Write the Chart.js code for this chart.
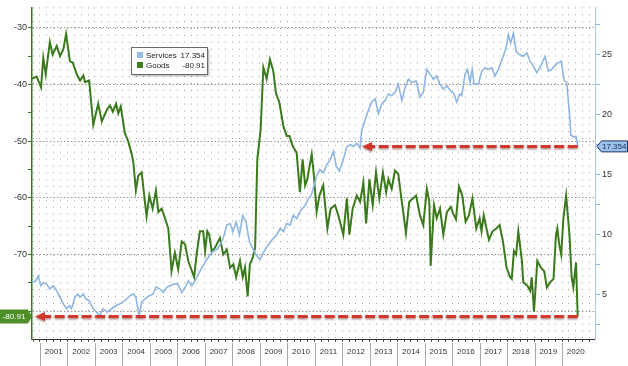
<!DOCTYPE html>
<html>
<head>
<meta charset="utf-8">
<script src="https://cdn.jsdelivr.net/npm/chart.js@4.4.1/dist/chart.umd.min.js"></script>
<style>
html, body { margin: 0; padding: 0; background: #fff; }
#wrap { width: 628px; height: 366px; }
</style>
</head>
<body>
<div id="wrap"><canvas id="myChart" width="628" height="366"></canvas></div>
<script>
// Goods (left axis), decimal years + values
const goodsYears = [
  2000.71, 2000.88, 2001.04, 2001.12, 2001.21, 2001.36, 2001.46, 2001.61, 2001.73, 2001.85, 2001.95,
  2002.09, 2002.19, 2002.34, 2002.46, 2002.58, 2002.64, 2002.79, 2002.94, 2003.12, 2003.25, 2003.43,
  2003.55, 2003.65, 2003.77, 2003.85, 2003.94, 2004.09, 2004.21, 2004.34, 2004.40, 2004.49, 2004.58,
  2004.70, 2004.88, 2004.98, 2005.10, 2005.22, 2005.31, 2005.43, 2005.55, 2005.67, 2005.79, 2005.91,
  2006.03, 2006.16, 2006.28, 2006.40, 2006.61, 2006.70, 2006.82, 2006.94, 2007.01, 2007.09, 2007.16,
  2007.25, 2007.37, 2007.55, 2007.67, 2007.80, 2007.92, 2008.04, 2008.14, 2008.28, 2008.38, 2008.46,
  2008.56, 2008.64, 2008.74, 2008.83, 2008.91, 2009.03, 2009.13, 2009.25, 2009.37, 2009.49, 2009.59,
  2009.71, 2009.86, 2009.98, 2010.08, 2010.20, 2010.34, 2010.46, 2010.56, 2010.65, 2010.73, 2010.89,
  2010.97, 2011.07, 2011.17, 2011.31, 2011.46, 2011.58, 2011.74, 2011.86, 2012.04, 2012.17, 2012.26,
  2012.38, 2012.53, 2012.65, 2012.77, 2012.87, 2012.99, 2013.11, 2013.23, 2013.35, 2013.48, 2013.60,
  2013.68, 2013.80, 2013.92, 2014.04, 2014.17, 2014.32, 2014.44, 2014.57, 2014.69, 2014.83, 2014.95,
  2015.08, 2015.17, 2015.22, 2015.34, 2015.44, 2015.56, 2015.68, 2015.81, 2015.95, 2016.04, 2016.14,
  2016.25, 2016.37, 2016.49, 2016.61, 2016.74, 2016.88, 2017.00, 2017.07, 2017.15, 2017.25, 2017.34,
  2017.47, 2017.61, 2017.73, 2017.85, 2017.98, 2018.11, 2018.17, 2018.25, 2018.33, 2018.41, 2018.54,
  2018.59, 2018.74, 2018.84, 2018.90, 2018.98, 2019.10, 2019.23, 2019.35, 2019.45, 2019.57, 2019.69,
  2019.78, 2019.83, 2019.90, 2019.97, 2020.05, 2020.15, 2020.27, 2020.35, 2020.41, 2020.51, 2020.57
];
const goodsValues = [
  -39.0, -38.6, -40.5, -35.3, -38.2, -32.5, -34.7, -33.2, -35.0, -33.8, -31.1,
  -35.9, -36.1, -38.2, -39.3, -38.4, -39.6, -39.3, -47.1, -43.4, -46.5, -44.5,
  -43.7, -44.8, -43.4, -45.1, -43.9, -48.6, -50.0, -52.3, -53.8, -58.7, -56.1,
  -55.5, -63.3, -59.6, -61.9, -58.7, -62.5, -61.9, -63.6, -65.4, -72.9, -69.7,
  -72.6, -67.7, -68.2, -71.2, -74.0, -70.0, -65.9, -65.9, -69.4, -65.9, -66.5,
  -69.4, -68.8, -67.1, -70.0, -69.1, -72.3, -71.7, -74.0, -71.1, -74.0, -72.3,
  -77.4, -71.7, -70.6, -68.8, -53.2, -48.0, -37.0, -39.0, -35.6, -37.6, -41.6,
  -43.1, -47.4, -49.1, -49.1, -50.9, -52.0, -59.0, -53.2, -57.8, -56.7, -52.3,
  -56.1, -62.5, -59.6, -57.8, -65.4, -61.9, -61.3, -63.1, -66.5, -60.1, -66.5,
  -61.9, -59.6, -60.7, -57.3, -64.5, -56.7, -61.3, -55.5, -60.1, -55.5, -59.0,
  -56.7, -58.4, -55.2, -55.8, -60.7, -66.2, -60.7, -60.1, -59.6, -63.1, -64.8,
  -58.4, -60.7, -72.0, -61.3, -63.6, -61.9, -66.5, -62.5, -61.6, -62.8, -63.8,
  -58.0, -59.6, -64.2, -63.1, -60.1, -65.4, -63.6, -65.9, -63.1, -65.4, -67.4,
  -65.9, -65.4, -64.8, -67.7, -72.3, -74.0, -74.3, -69.4, -70.0, -65.9, -71.1,
  -74.9, -75.5, -76.4, -74.0, -80.1, -71.1, -72.3, -72.9, -75.8, -74.9, -74.3,
  -66.5, -65.4, -68.3, -70.0, -63.6, -59.6, -66.5, -74.0, -75.8, -71.4, -80.91
];

// Services (right axis)
const servicesYears = [
  2000.71, 2000.85, 2000.94, 2001.03, 2001.12, 2001.24, 2001.36, 2001.48, 2001.61, 2001.73, 2001.85,
  2001.97, 2002.07, 2002.15, 2002.27, 2002.37, 2002.46, 2002.58, 2002.67, 2002.79, 2002.94, 2003.06,
  2003.18, 2003.30, 2003.45, 2003.61, 2003.77, 2003.91, 2004.09, 2004.28, 2004.40, 2004.49, 2004.61,
  2004.70, 2004.82, 2004.98, 2005.12, 2005.22, 2005.37, 2005.49, 2005.61, 2005.73, 2005.88, 2006.00,
  2006.16, 2006.28, 2006.40, 2006.52, 2006.64, 2006.76, 2006.89, 2007.07, 2007.19, 2007.31, 2007.43,
  2007.55, 2007.67, 2007.80, 2007.92, 2008.02, 2008.14, 2008.26, 2008.38, 2008.50, 2008.62, 2008.74,
  2008.86, 2009.01, 2009.19, 2009.31, 2009.49, 2009.62, 2009.74, 2009.86, 2009.98, 2010.10, 2010.22,
  2010.34, 2010.49, 2010.65, 2010.77, 2010.89, 2011.07, 2011.19, 2011.31, 2011.44, 2011.56, 2011.68,
  2011.78, 2011.90, 2012.04, 2012.17, 2012.29, 2012.41, 2012.53, 2012.65, 2012.71, 2012.83, 2012.95,
  2013.07, 2013.20, 2013.32, 2013.44, 2013.56, 2013.68, 2013.80, 2013.92, 2014.04, 2014.17, 2014.29,
  2014.41, 2014.53, 2014.69, 2014.83, 2014.95, 2015.08, 2015.20, 2015.32, 2015.44, 2015.56, 2015.68,
  2015.81, 2015.93, 2016.05, 2016.17, 2016.27, 2016.35, 2016.47, 2016.56, 2016.65, 2016.73, 2016.80,
  2016.96, 2017.08, 2017.20, 2017.32, 2017.44, 2017.56, 2017.68, 2017.86, 2017.96, 2018.05, 2018.13,
  2018.23, 2018.33, 2018.45, 2018.59, 2018.72, 2018.84, 2018.96, 2019.08, 2019.20, 2019.38, 2019.50,
  2019.63, 2019.78, 2019.97, 2020.08, 2020.17, 2020.27, 2020.32, 2020.41, 2020.51, 2020.57
];
const servicesValues = [
  6.00, 6.15, 6.56, 5.74, 6.00, 5.88, 5.47, 5.74, 5.33, 4.78, 4.24,
  3.83, 4.10, 3.83, 4.78, 5.06, 4.78, 5.06, 4.65, 4.51, 3.83, 3.55,
  3.28, 3.83, 3.55, 3.83, 4.10, 4.24, 4.51, 4.92, 5.06, 4.78, 3.28,
  4.37, 4.65, 4.92, 5.06, 5.66, 5.47, 5.19, 5.60, 5.74, 5.88, 5.93,
  5.19, 5.60, 6.15, 5.74, 6.15, 6.70, 7.24, 7.93, 8.33, 8.61, 8.75,
  9.16, 9.70, 10.80, 10.93, 10.25, 11.07, 9.98, 11.60, 11.07, 9.43, 8.88,
  8.33, 7.93, 8.75, 9.16, 9.70, 9.98, 10.52, 10.25, 10.93, 10.80, 11.62,
  11.34, 12.02, 12.43, 12.98, 13.39, 14.89, 15.44, 15.16, 15.84, 16.25, 16.94,
  15.71, 15.30, 16.25, 17.35, 17.49, 17.35, 17.62, 17.21, 18.71, 19.53, 20.35,
  21.04, 21.31, 20.08, 20.90, 21.17, 21.72, 21.58, 21.86, 22.54, 21.17, 22.27,
  22.95, 22.68, 22.81, 21.45, 21.86, 23.77, 23.36, 22.95, 23.22, 22.54, 22.13,
  22.40, 22.00, 21.80, 21.04, 21.72, 21.58, 23.36, 23.77, 22.68, 23.77, 22.54,
  22.54, 23.63, 23.91, 23.77, 23.91, 23.22, 23.77, 24.86, 25.55, 26.64, 25.96,
  26.78, 25.27, 25.00, 24.86, 25.14, 24.45, 24.04, 23.50, 23.91, 24.86, 23.63,
  23.77, 24.18, 24.45, 22.81, 22.68, 20.08, 18.30, 18.17, 18.17, 17.354
];

const yearLabels = [2001, 2002, 2003, 2004, 2005, 2006, 2007, 2008, 2009, 2010,
                    2011, 2012, 2013, 2014, 2015, 2016, 2017, 2018, 2019, 2020];
const goodsTickLabels = [-70, -60, -50, -40, -30];
const servicesTickLabels = [5, 10, 15, 20, 25];

const lastServices = 17.354;
const lastGoods = -80.91;
// where the red arrows point back to (years)
const servicesArrowTo = 2012.72;
const goodsArrowTo = 2000.82;

const GREEN = '#3a7a1c';
const BLUE = '#8fb6e3';
const RED = '#d2372b';
const FONT = 'Liberation Sans';

Chart.defaults.font.family = FONT;
Chart.defaults.color = '#333';

function dashedArrow(ctx, xTip, xEnd, y) {
  ctx.save();
  ctx.shadowColor = 'rgba(80,0,0,0.45)';
  ctx.shadowBlur = 2;
  ctx.shadowOffsetY = 1.5;
  ctx.strokeStyle = RED;
  ctx.lineWidth = 3;
  ctx.setLineDash([10, 3.5]);
  ctx.beginPath();
  ctx.moveTo(xEnd, y);
  ctx.lineTo(xTip + 8, y);
  ctx.stroke();
  ctx.setLineDash([]);
  ctx.fillStyle = RED;
  ctx.beginPath();
  ctx.moveTo(xTip, y);
  ctx.lineTo(xTip + 10, y - 4.5);
  ctx.lineTo(xTip + 10, y + 4.5);
  ctx.closePath();
  ctx.fill();
  ctx.restore();
}

const extras = {
  id: 'extras',
  afterDatasetsDraw(chart) {
    const { ctx, scales } = chart;
    const lastYear = servicesYears[servicesYears.length - 1];
    dashedArrow(ctx, scales.x.getPixelForValue(servicesArrowTo), scales.x.getPixelForValue(lastYear),
      scales.yR.getPixelForValue(lastServices));
    dashedArrow(ctx, scales.x.getPixelForValue(goodsArrowTo), scales.x.getPixelForValue(lastYear),
      scales.yL.getPixelForValue(lastGoods));
  },
  afterDraw(chart) {
    const { ctx, scales, chartArea } = chart;
    const H = chart.height;

    // year separators under the axis
    ctx.save();
    ctx.strokeStyle = '#a8a8a8';
    ctx.lineWidth = 1;
    yearLabels.forEach(yr => {
      const x = Math.round(scales.x.getPixelForValue(yr)) + 0.5;
      ctx.beginPath();
      ctx.moveTo(x, chartArea.bottom + 4);
      ctx.lineTo(x, H);
      ctx.stroke();
    });
    ctx.restore();

    // right value tag
    let y = scales.yR.getPixelForValue(lastServices);
    ctx.save();
    ctx.fillStyle = '#9cc0ea';
    ctx.strokeStyle = '#1c3560';
    ctx.lineWidth = 1;
    ctx.beginPath();
    ctx.moveTo(597, y);
    ctx.lineTo(601.5, y - 5.5);
    ctx.lineTo(627.5, y - 5.5);
    ctx.lineTo(627.5, y + 5.5);
    ctx.lineTo(601.5, y + 5.5);
    ctx.closePath();
    ctx.fill();
    ctx.stroke();
    ctx.fillStyle = '#1a2d5a';
    ctx.font = '8px ' + FONT;
    ctx.textAlign = 'left';
    ctx.textBaseline = 'middle';
    ctx.fillText(lastServices.toFixed(3), 602, y + 0.5);
    ctx.restore();

    // left value tag
    y = scales.yL.getPixelForValue(lastGoods);
    ctx.save();
    ctx.fillStyle = '#4f8f2a';
    ctx.beginPath();
    ctx.moveTo(0, y - 7);
    ctx.lineTo(28, y - 7);
    ctx.lineTo(32, y);
    ctx.lineTo(28, y + 7);
    ctx.lineTo(0, y + 7);
    ctx.closePath();
    ctx.fill();
    ctx.fillStyle = '#fff';
    ctx.font = '8px ' + FONT;
    ctx.textAlign = 'center';
    ctx.textBaseline = 'middle';
    ctx.fillText(lastGoods.toFixed(2), 14, y + 0.5);
    ctx.restore();

    // legend box
    ctx.save();
    ctx.shadowColor = 'rgba(0,0,0,0.35)';
    ctx.shadowBlur = 2;
    ctx.shadowOffsetX = 1;
    ctx.shadowOffsetY = 1;
    ctx.fillStyle = '#fff';
    ctx.fillRect(131.5, 47.5, 76, 27);
    ctx.restore();
    ctx.save();
    ctx.strokeStyle = '#6a6a6a';
    ctx.lineWidth = 1;
    ctx.strokeRect(131.5, 47.5, 76, 27);
    ctx.fillStyle = '#98bce8';
    ctx.fillRect(137, 52, 6, 6);
    ctx.fillStyle = '#3d7f1f';
    ctx.fillRect(137, 62, 6, 6);
    ctx.fillStyle = '#222';
    ctx.font = '8px ' + FONT;
    ctx.textBaseline = 'middle';
    ctx.textAlign = 'left';
    ctx.fillText('Services', 146, 55.5);
    ctx.fillText('Goods', 146, 65.5);
    ctx.textAlign = 'right';
    ctx.fillText(lastServices.toFixed(3), 205, 55.5);
    ctx.fillText(lastGoods.toFixed(2), 205, 65.5);
    ctx.restore();
  }
};

const ctx = document.getElementById('myChart').getContext('2d');
new Chart(ctx, {
  type: 'line',
  data: {
    datasets: [
      {
        label: 'Services',
        data: servicesYears.map((t, i) => ({ x: t, y: servicesValues[i] })),
        yAxisID: 'yR',
        borderColor: BLUE,
        borderWidth: 1.6,
        pointRadius: 0,
        tension: 0
      },
      {
        label: 'Goods',
        data: goodsYears.map((t, i) => ({ x: t, y: goodsValues[i] })),
        yAxisID: 'yL',
        borderColor: GREEN,
        borderWidth: 2,
        pointRadius: 0,
        tension: 0
      }
    ]
  },
  options: {
    responsive: false,
    animation: false,
    layout: { padding: { top: 2 } },
    plugins: { legend: { display: false }, tooltip: { enabled: false } },
    scales: {
      x: {
        type: 'linear',
        position: 'bottom',
        min: 2000.71,
        max: 2021.2,
        afterBuildTicks: s => {
          const t = [];
          for (let v = 2000.75; v <= 2021; v += 0.25) t.push({ value: v });
          s.ticks = t;
        },
        afterFit: s => { s.height = 27; },
        grid: {
          color: 'rgba(150,150,150,0.9)',
          lineWidth: 1,
          tickLength: 3,
          tickColor: '#555'
        },
        border: { color: '#333', width: 1, dash: [1, 5.87] },
        ticks: {
          autoSkip: false,
          maxRotation: 0,
          padding: 5,
          color: '#333',
          font: { size: 8 },
          callback: v => (v % 1 === 0.5 && yearLabels.includes(Math.floor(v))) ? String(Math.floor(v)) : ''
        }
      },
      yL: {
        type: 'linear',
        position: 'left',
        min: -84.9,
        max: -26.4,
        afterBuildTicks: s => {
          const t = [];
          for (let v = -80; v <= -30; v += 5) t.push({ value: v });
          s.ticks = t;
        },
        afterFit: s => { s.width = 32; },
        grid: {
          color: c => (c.tick && c.tick.value % 10 === 0) ? 'rgba(140,140,140,0.9)' : 'rgba(0,0,0,0)',
          tickColor: GREEN,
          tickLength: 4
        },
        border: { color: GREEN, width: 1.5, dash: [1.5, 2] },
        ticks: {
          padding: 1,
          color: '#333',
          font: { size: 9 },
          callback: v => goodsTickLabels.includes(v) ? String(v) : ''
        }
      },
      yR: {
        type: 'linear',
        position: 'right',
        min: 1.31,
        max: 28.93,
        afterBuildTicks: s => {
          const t = [];
          for (let v = 2.5; v <= 27.5; v += 2.5) t.push({ value: v });
          s.ticks = t;
        },
        afterFit: s => { s.width = 33; },
        grid: {
          drawOnChartArea: false,
          tickColor: BLUE,
          tickLength: 5
        },
        border: { color: '#a9c5e4', width: 1 },
        ticks: {
          padding: 2,
          color: '#333',
          font: { size: 9 },
          callback: v => servicesTickLabels.includes(v) ? String(v) : ''
        }
      }
    }
  },
  plugins: [extras]
});
</script>
</body>
</html>
